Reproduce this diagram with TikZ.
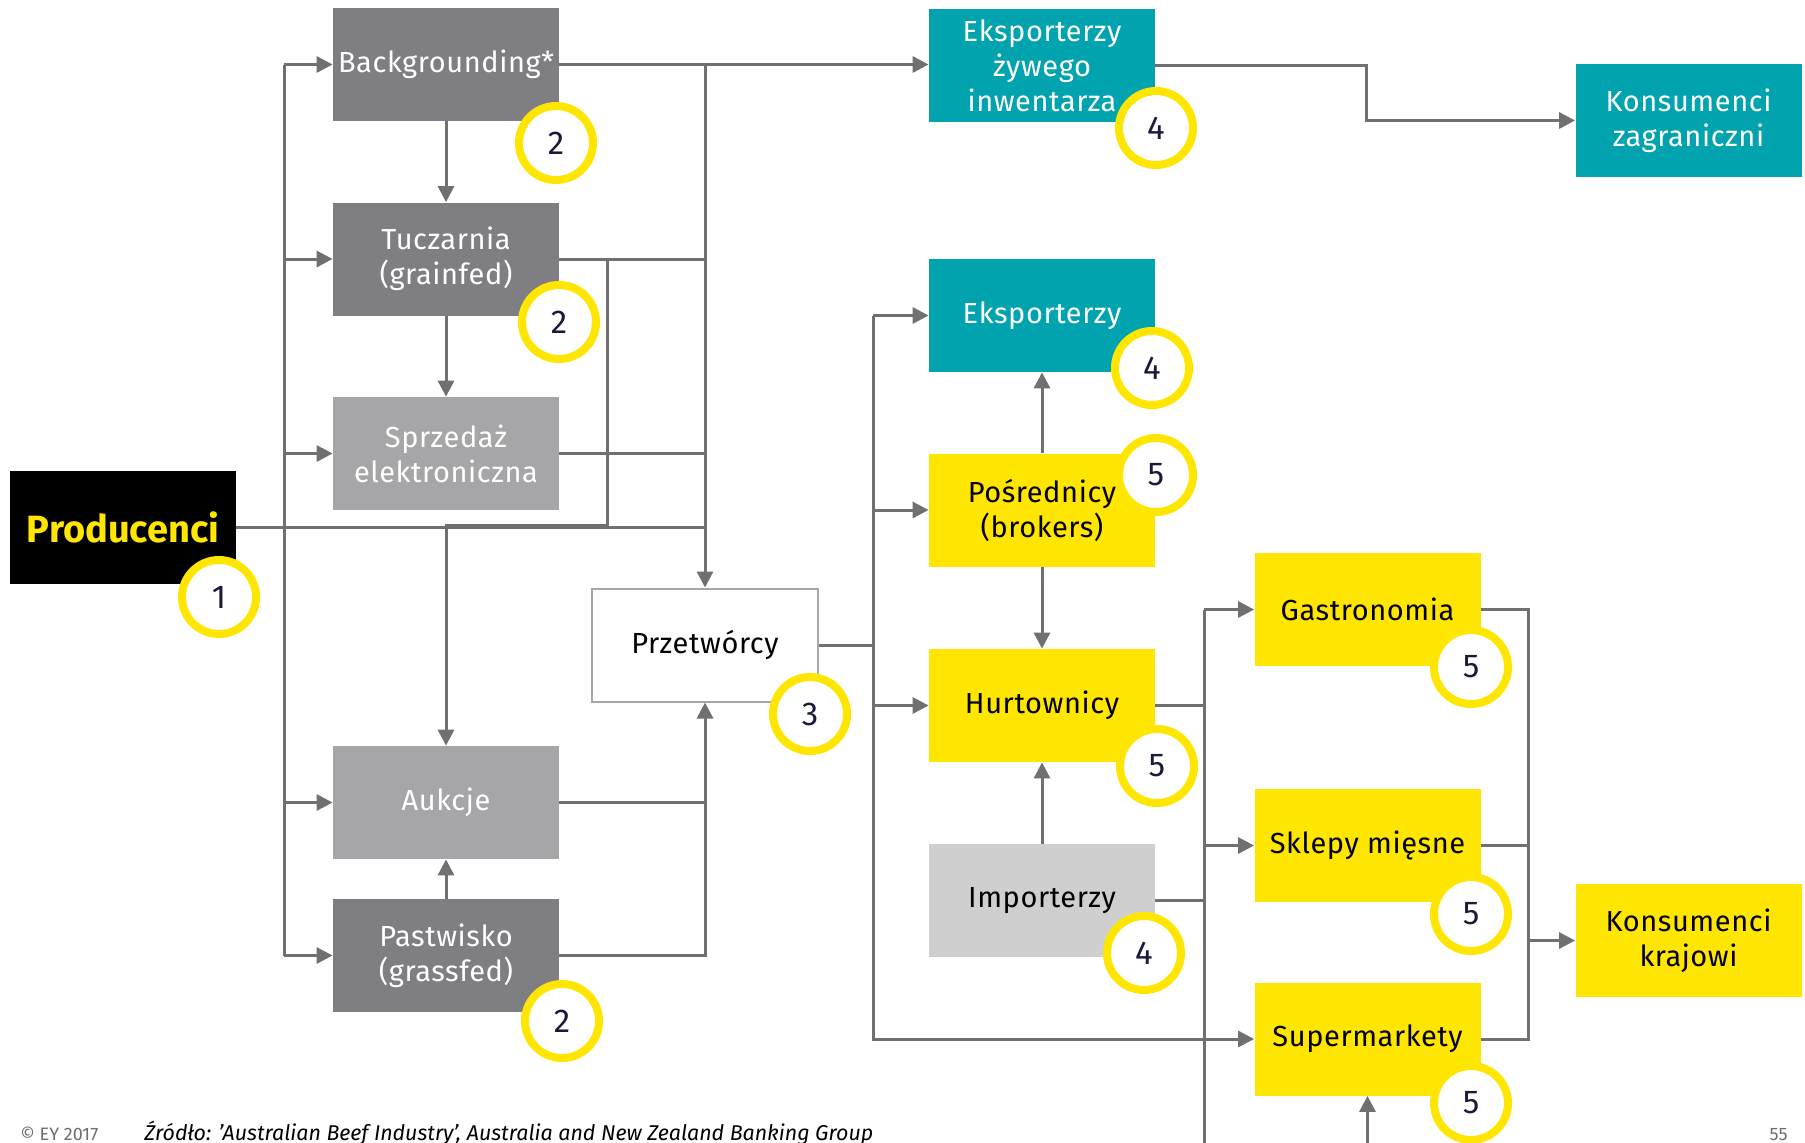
\documentclass[tikz,border=0pt]{standalone}
\usepackage{fontspec}
\setmainfont{Fira Sans}
\newfontfamily\boxfont[LetterSpace=2]{Fira Sans}
\usetikzlibrary{arrows.meta}

\definecolor{boxdark}{HTML}{7F7F83}
\definecolor{boxmid}{HTML}{A6A6A8}
\definecolor{boxlight}{HTML}{CFCFCF}
\definecolor{eyteal}{HTML}{00A3AE}
\definecolor{eyyellow}{HTML}{FFE600}
\definecolor{linkgray}{HTML}{707070}
\definecolor{numnavy}{HTML}{1A1A3C}
\definecolor{footgray}{HTML}{6E6E6E}

\begin{document}
\begin{tikzpicture}[x=0.5pt,y=-0.5pt,
  box/.style={rectangle, minimum width=113pt, minimum height=56.5pt,
    inner sep=0pt, align=center, text=white,
    font=\boxfont\fontsize{14.5}{17.5}\selectfont},
  darkbox/.style={box, fill=boxdark},
  midbox/.style={box, fill=boxmid},
  tealbox/.style={box, fill=eyteal},
  yellowbox/.style={box, fill=eyyellow, text=black},
  lightbox/.style={box, fill=boxlight, text=black},
  whitebox/.style={box, fill=white, draw=boxmid, line width=1pt, text=black},
  numring/.style={circle, draw=eyyellow, line width=4pt, fill=white,
    minimum size=37pt, inner sep=0pt, text=numnavy,
    font=\fontsize{16.5}{16.5}\selectfont},
  conn/.style={draw=linkgray, line width=1.5pt},
  arr/.style={conn, -{Triangle[length=8pt,width=8pt]}}
]
\clip (0,0) rectangle (1805,1142);
\fill[white] (0,0) rectangle (1805,1142);

% supply side
\node[darkbox] (bg)    at (446,64.5)  {Backgrounding*};
\node[darkbox] (tucz)  at (446,259)   {Tuczarnia\\(grainfed)};
\node[midbox]  (sprz)  at (446,453.5) {Sprzedaż\\elektroniczna};
\node[box, fill=black, text=eyyellow, font=\fontsize{19}{22}\bfseries]
               (prod)  at (123,527.5) {Producenci};
\node[whitebox] (przet) at (705,645)  {Przetwórcy};
\node[midbox]  (auk)   at (446,802.5) {Aukcje};
\node[darkbox] (past)  at (446,955.5) {Pastwisko\\(grassfed)};

% trade and distribution
\node[tealbox]   (ezyw)  at (1042,65.5)   {Eksporterzy\\żywego\\inwentarza};
\node[tealbox]   (kzag)  at (1688.5,120.5) {Konsumenci\\zagraniczni};
\node[tealbox]   (eksp)  at (1042,315.5)  {Eksporterzy};
\node[yellowbox] (posr)  at (1042,510)    {Pośrednicy\\(brokers)};
\node[yellowbox] (hurt)  at (1042,705.5)  {Hurtownicy};
\node[lightbox]  (imp)   at (1042,900.5)  {Importerzy};
\node[yellowbox] (gast)  at (1367.5,609.5) {Gastronomia};
\node[yellowbox] (skl)   at (1367.5,845.5) {Sklepy mięsne};
\node[yellowbox] (sup)   at (1367.5,1039)  {Supermarkety};
\node[yellowbox] (kkraj) at (1688.5,940.5) {Konsumenci\\krajowi};

% bus lines and junctions
\coordinate (lbx)   at (284,64.5);
\coordinate (lbbot) at (284,955.5);
\coordinate (tj)    at (607,525);
\coordinate (rbx)   at (873,315.5);
\coordinate (kj)    at (1366,90);
\coordinate (dbx)   at (1204,609.5);
\coordinate (dbbot) at (1204,1160);
\coordinate (supbot) at (1367.5,1160);
\coordinate (cb)    at (1528,1039);

% producers feed every channel
\draw[conn] (lbx) -- (lbbot);
\draw[conn] (prod.east) -- (prod.east -| przet.north);
\draw[arr] (lbx) -- (bg.west);
\draw[arr] (lbx |- tucz.west) -- (tucz.west);
\draw[arr] (lbx |- sprz.west) -- (sprz.west);
\draw[arr] (lbx |- auk.west) -- (auk.west);
\draw[arr] (lbbot) -- (past.west);

\draw[arr] (bg.south) -- (tucz.north);
\draw[arr] (tucz.south) -- (sprz.north);
\draw[arr] (past.north) -- (auk.south);

% towards processors and live export
\draw[arr] (bg.east) -- (bg.east -| ezyw.west);
\draw[arr] (bg.east -| przet.north) -- (przet.north);
\draw[conn] (tucz.east) -- (tucz.east -| przet.north);
\draw[conn] (sprz.east) -- (sprz.east -| przet.north);
\draw[arr] (tucz.east) -| (tj) -| (auk.north);
\draw[conn] (auk.east) -- (auk.east -| przet.south);
\draw[arr] (past.east) -| (przet.south);

\draw[arr] (ezyw.east) -| (kj) |- (kzag.west);

% processors to trade channels
\draw[conn] (przet.east) -- (przet.east -| rbx);
\draw[arr] (rbx) -- (eksp.west);
\draw[arr] (rbx |- posr.west) -- (posr.west);
\draw[arr] (rbx |- hurt.west) -- (hurt.west);
\draw[arr] (rbx) |- (sup.west);

\draw[arr] (posr.north) -- (eksp.south);
\draw[arr] (posr.south) -- (hurt.north);
\draw[arr] (imp.north) -- (hurt.south);

% wholesale distribution
\draw[conn] (dbx) -- (dbbot);
\draw[arr] (dbx) -- (gast.west);
\draw[arr] (dbx |- skl.west) -- (skl.west);
\draw[conn] (hurt.east) -- (hurt.east -| dbx);
\draw[conn] (imp.east) -- (imp.east -| dbx);
\draw[arr] (supbot) -- (sup.south);

% retail to domestic consumers
\draw[conn] (gast.east) -| (cb) -- (sup.east);
\draw[conn] (skl.east) -- (skl.east -| cb);
\draw[arr] (cb |- kkraj.west) -- (kkraj.west);

% stage numbers
\node[numring] (n1)  at (219,597)   {1};
\node[numring] (n2a) at (556,143)   {2};
\node[numring] (n2b) at (559,322)   {2};
\node[numring] (n2c) at (562,1021)  {2};
\node[numring] (n3)  at (810,714)   {3};
\node[numring] (n4a) at (1156,128)  {4};
\node[numring] (n4b) at (1152,368)  {4};
\node[numring] (n4c) at (1144,953)  {4};
\node[numring] (n5a) at (1156,475)  {5};
\node[numring] (n5b) at (1157,766)  {5};
\node[numring] (n5c) at (1471,667)  {5};
\node[numring] (n5d) at (1471,914)  {5};
\node[numring] (n5e) at (1471,1103) {5};

% footer
\node[anchor=base west, inner sep=0pt, text=footgray,
      font=\fontsize{9}{9}\selectfont] (copy) at (20,1140) {© EY 2017};
\node[anchor=base west, inner sep=0pt, text=black,
      font=\fontsize{10.7}{10.7}\selectfont\itshape] (src) at (144,1140)
      {Źródło: 'Australian Beef Industry', Australia and New Zealand Banking Group};
\node[anchor=base east, inner sep=0pt, text=footgray,
      font=\fontsize{9}{9}\selectfont] (page) at (1788,1140) {55};
\end{tikzpicture}
\end{document}
